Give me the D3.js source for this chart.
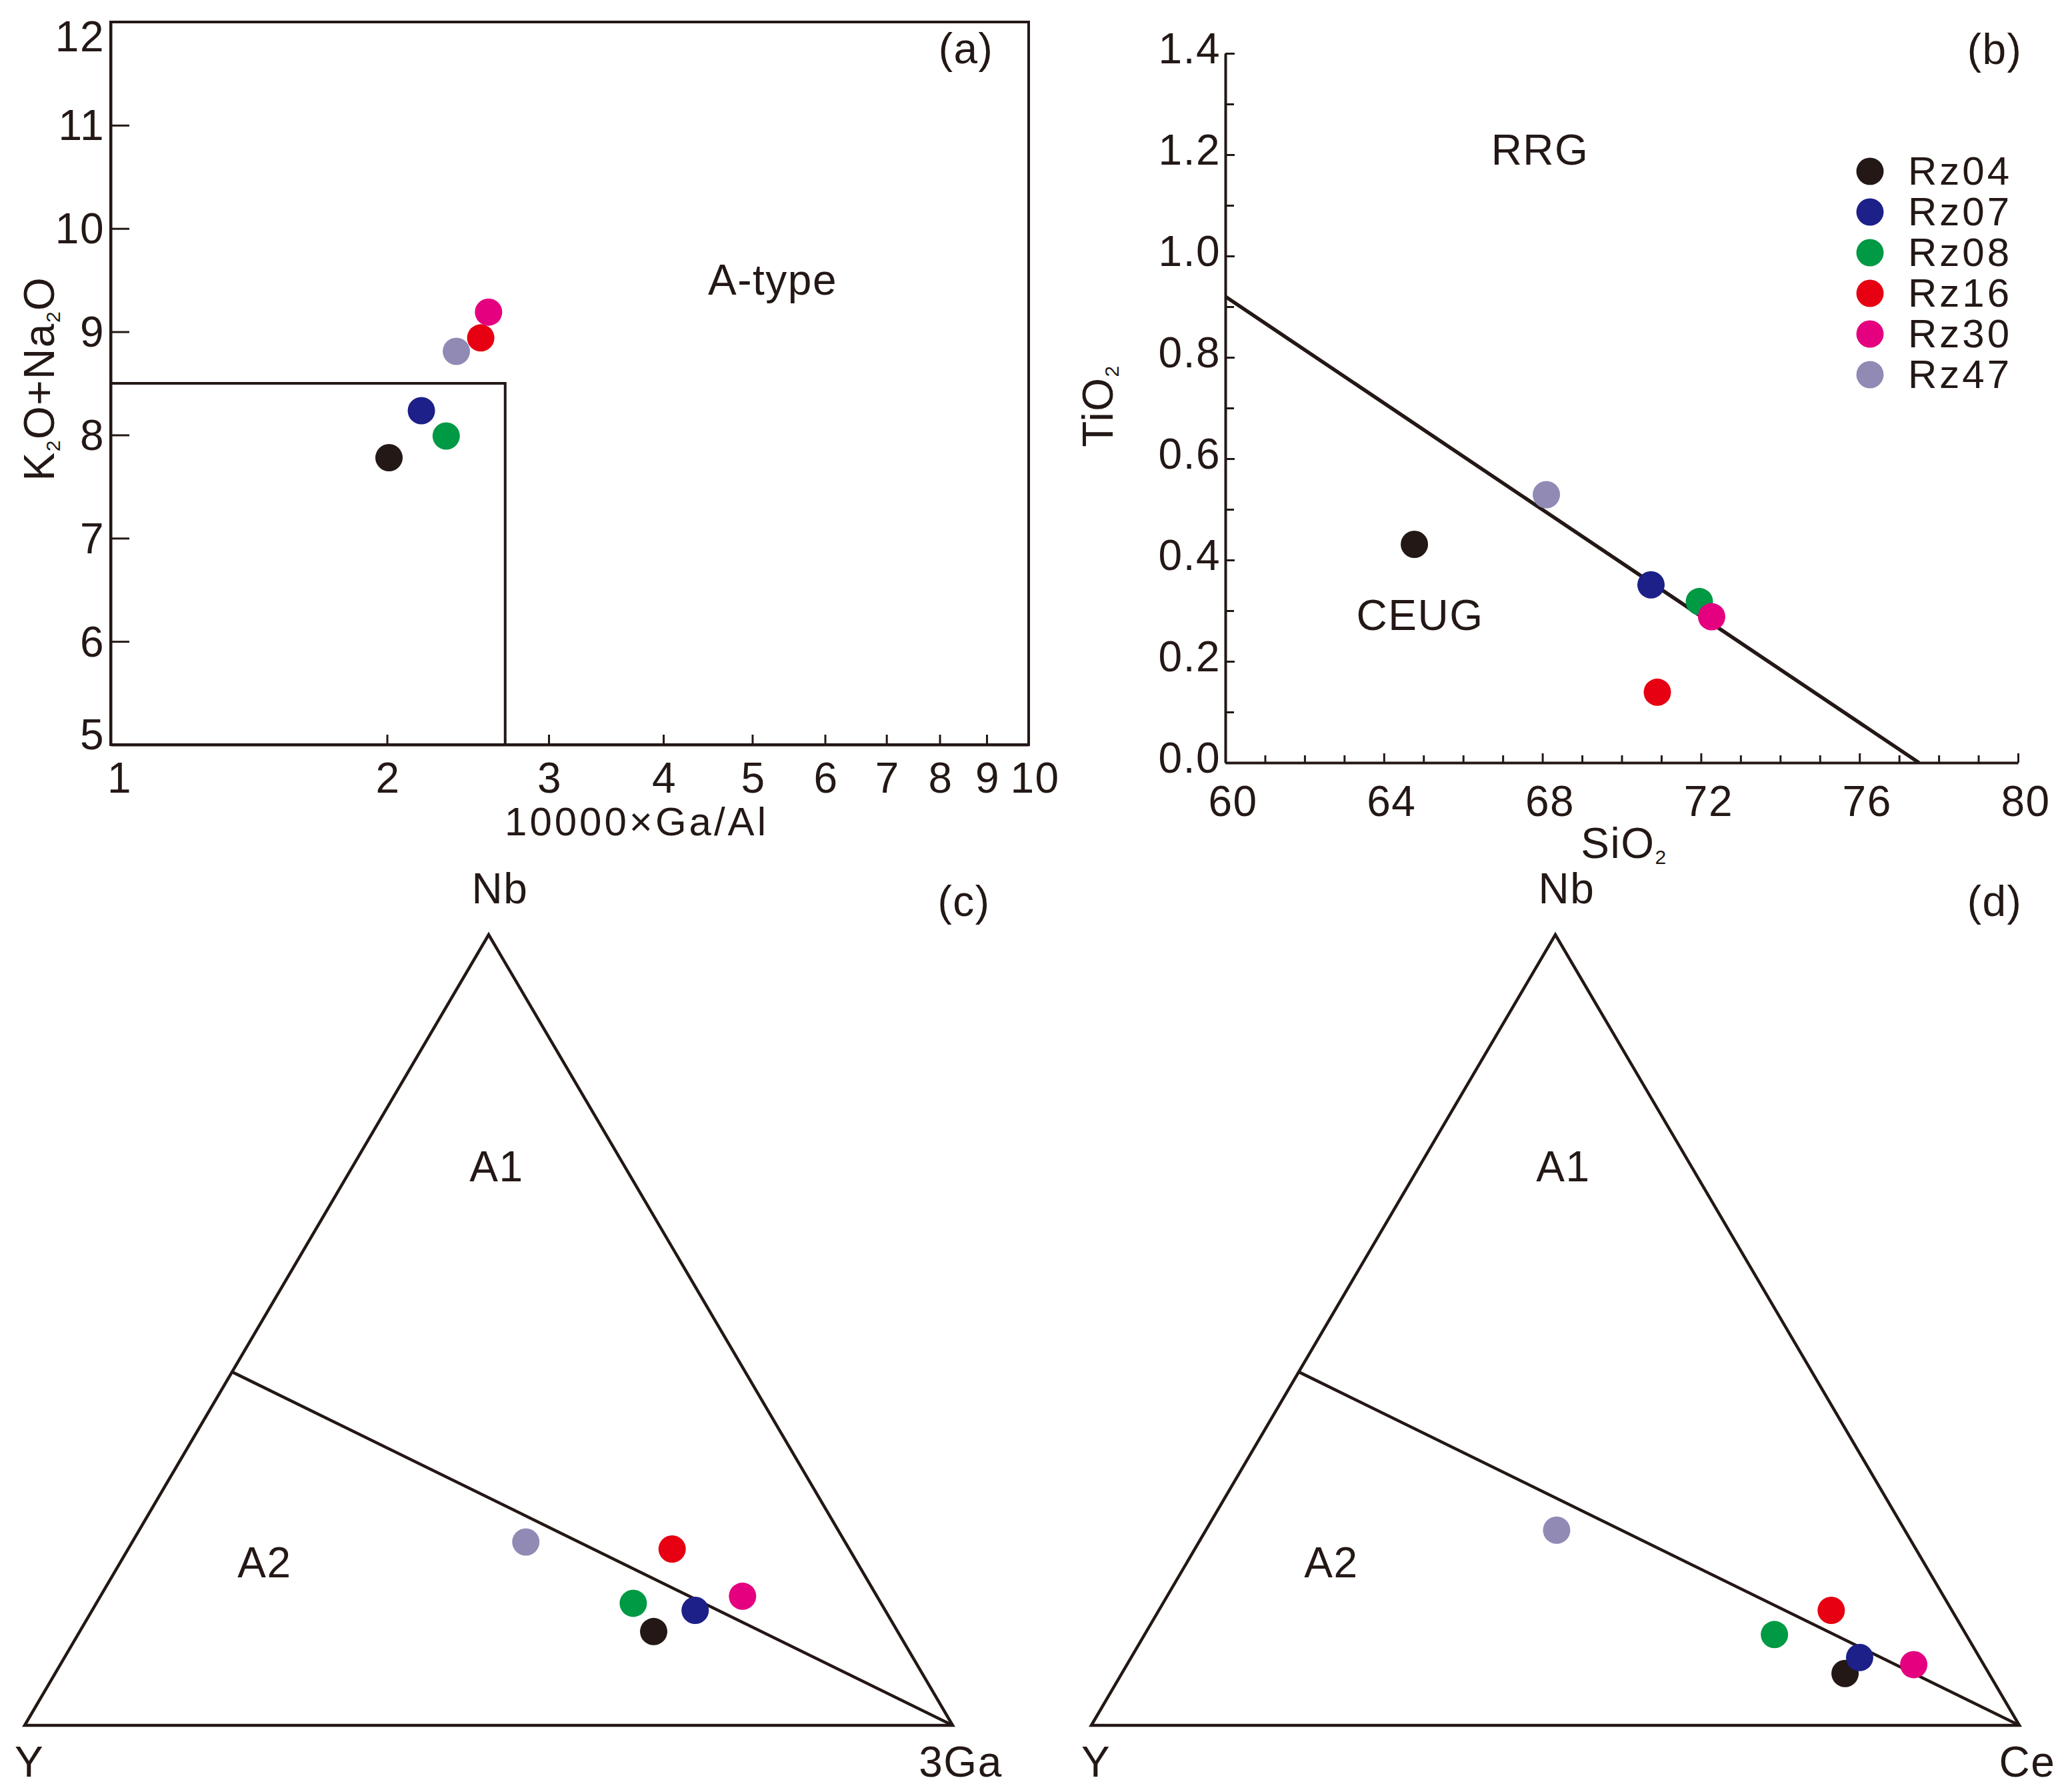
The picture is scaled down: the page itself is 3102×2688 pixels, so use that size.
<!DOCTYPE html>
<html>
<head>
<meta charset="utf-8">
<script src="https://cdn.jsdelivr.net/npm/d3@7"></script>
<style>
  html, body { margin: 0; padding: 0; background: #fff; }
  svg { display: block; }
  text { font-family: "Liberation Sans", Arial, sans-serif; font-size: 64px; fill: #231815; letter-spacing: 1.5px; }
  .tight { font-size: 60px; letter-spacing: 4px; }
  .tick line, .domain { stroke: #231815; }
</style>
</head>
<body>
<svg id="chart" width="3102" height="2688"></svg>
<script>
// samples, same order everywhere
let samples = ["Rz04", "Rz07", "Rz08", "Rz16", "Rz30", "Rz47"];
let sampleColors = ["#231815", "#1d2088", "#009944", "#e60012", "#e4007f", "#918ab5"];

// (a) Ga/Al vs alkalis
let gaAl = [2.01, 2.18, 2.32, 2.53, 2.58, 2.38];
let k2oNa2o = [7.78, 8.235, 7.99, 8.94, 9.19, 8.81];
let boxGaAl = [1, 2.69, 2.69];
let boxAlkali = [8.5, 8.5, 5];
let gaAlTicks = [1, 2, 3, 4, 5, 6, 7, 8, 9, 10];
let alkaliTicks = [5, 6, 7, 8, 9, 10, 11, 12];

// (b) SiO2 vs TiO2
let sio2 = [64.77, 70.74, 71.96, 70.9, 72.27, 68.1];
let tio2 = [0.431, 0.351, 0.318, 0.139, 0.288, 0.529];
let lineSio2 = [60, 77.5];
let lineTio2 = [0.92, 0];
let sio2Major = [60, 64, 68, 72, 76, 80];
let sio2Minor = [61, 62, 63, 65, 66, 67, 69, 70, 71, 73, 74, 75, 77, 78, 79];
let tio2Major = [0, 0.2, 0.4, 0.6, 0.8, 1.0, 1.2, 1.4];
let tio2Minor = [0.1, 0.3, 0.5, 0.7, 0.9, 1.1, 1.3];

// (c) Nb - Y - 3Ga fractions
let cNb = [0.1186, 0.1454, 0.1544, 0.223, 0.1633, 0.2319];
let cGa = [0.6185, 0.6498, 0.5786, 0.5862, 0.6919, 0.4241];
// (d) Nb - Y - Ce fractions
let dNb = [0.0656, 0.0858, 0.1148, 0.1454, 0.0768, 0.2468];
let dCe = [0.7794, 0.785, 0.6787, 0.7246, 0.8478, 0.378];
// A1/A2 boundary leaves the Y-Nb edge at this Nb fraction
let a1a2Nb = 0.447;

let ink = "#231815";
let dotR = 20.5;
let svg = d3.select("#chart");

function label(x, y, str, anchor) {
    return svg.append("text").attr("x", x).attr("y", y)
        .attr("text-anchor", anchor || "middle").text(str);
}

// rotated or flat label with small subscript 2s, parts like ["K","2","O+Na","2","O"]
function subLabel(x, y, parts, rotate) {
    let t = svg.append("text").attr("text-anchor", "middle")
        .attr("transform", "translate(" + x + "," + y + ")" + (rotate ? " rotate(-90)" : ""));
    parts.forEach(function(p, i) {
        let isSub = i % 2 == 1;
        t.append("tspan")
            .style("font-size", isSub ? "30px" : "64px")
            .attr("dy", i == 0 ? 0 : (isSub ? 9 : -9))
            .text(p);
    });
}

function dots(xs, ys, x, y) {
    svg.append("g").selectAll("circle").data(samples).join("circle")
        .attr("cx", function(d, i) { return x(xs[i]); })
        .attr("cy", function(d, i) { return y(ys[i]); })
        .attr("r", dotR)
        .attr("fill", function(d, i) { return sampleColors[i]; });
}

// ---- panel a
let xa = d3.scaleLog().domain([1, 10]).range([166, 1543]);
let ya = d3.scaleLinear().domain([5, 12]).range([1117, 33]);

svg.append("rect").attr("x", xa(1)).attr("y", ya(12))
    .attr("width", xa(10) - xa(1)).attr("height", ya(5) - ya(12))
    .attr("fill", "none").attr("stroke", ink).attr("stroke-width", 4);

let axA = svg.append("g").attr("transform", "translate(0," + ya(5) + ")")
    .call(d3.axisBottom(xa).tickValues(gaAlTicks).tickFormat(d3.format("d")).tickSize(-15).tickSizeOuter(0));
axA.select(".domain").attr("stroke-width", 4);
axA.selectAll(".tick line").attr("stroke-width", 3);
axA.selectAll(".tick text").attr("y", 72).attr("dy", 0)
    .attr("dx", function(d) { return d == 1 ? 13 : (d == 10 ? 9 : 1); });

let ayA = svg.append("g").attr("transform", "translate(" + xa(1) + ",0)")
    .call(d3.axisLeft(ya).tickValues(alkaliTicks).tickFormat(d3.format("d")).tickSize(-28).tickSizeOuter(0));
ayA.select(".domain").attr("stroke-width", 4);
ayA.selectAll(".tick line").attr("stroke-width", 3);
ayA.selectAll(".tick text").attr("x", -9).attr("dy", function(d) {
    if (d == 12) return 43;
    if (d == 5) return 6;
    return 22;
});

svg.append("path")
    .attr("d", d3.line().x(function(d) { return xa(d); }).y(function(d, i) { return ya(boxAlkali[i]); })(boxGaAl))
    .attr("fill", "none").attr("stroke", ink).attr("stroke-width", 4);

dots(gaAl, k2oNa2o, xa, ya);

label(955, 1253, "10000×Ga/Al").attr("class", "tight");
subLabel(81, 568, ["K", "2", "O+Na", "2", "O"], true);
label(1159, 442, "A-type");
label(1449, 95, "(a)");

// ---- panel b
let xb = d3.scaleLinear().domain([60, 80]).range([1838, 3027]);
let yb = d3.scaleLinear().domain([0, 1.4]).range([1144, 80]);

let minorB = svg.append("g").attr("transform", "translate(0," + yb(0) + ")")
    .call(d3.axisBottom(xb).tickValues(sio2Minor).tickFormat("").tickSize(-11).tickSizeOuter(0));
minorB.select(".domain").remove();
minorB.selectAll(".tick line").attr("stroke-width", 3);

let minorBy = svg.append("g").attr("transform", "translate(" + xb(60) + ",0)")
    .call(d3.axisLeft(yb).tickValues(tio2Minor).tickFormat("").tickSize(-13).tickSizeOuter(0));
minorBy.select(".domain").remove();
minorBy.selectAll(".tick line").attr("stroke-width", 3);

let axB = svg.append("g").attr("transform", "translate(0," + yb(0) + ")")
    .call(d3.axisBottom(xb).tickValues(sio2Major).tickFormat(d3.format("d")).tickSize(-14).tickSizeOuter(0));
axB.select(".domain").attr("stroke-width", 4);
axB.selectAll(".tick line").attr("stroke-width", 3);
axB.selectAll(".tick text").attr("y", 80).attr("dy", 0).attr("dx", 11);

let ayB = svg.append("g").attr("transform", "translate(" + xb(60) + ",0)")
    .call(d3.axisLeft(yb).tickValues(tio2Major).tickFormat(d3.format(".1f")).tickSize(-14).tickSizeOuter(0));
ayB.select(".domain").attr("stroke-width", 4);
ayB.selectAll(".tick line").attr("stroke-width", 3);
ayB.selectAll(".tick text").attr("x", -7).attr("dy", 14);

svg.append("line")
    .attr("x1", xb(lineSio2[0])).attr("y1", yb(lineTio2[0]))
    .attr("x2", xb(lineSio2[1])).attr("y2", yb(lineTio2[1]))
    .attr("stroke", ink).attr("stroke-width", 5.5);

dots(sio2, tio2, xb, yb);

label(2310, 247, "RRG");
label(2130, 945, "CEUG");
label(2992, 96, "(b)");
subLabel(2436, 1287, ["SiO", "2", ""], false);
subLabel(1669, 609, ["TiO", "2", ""], true);

// legend
let legendY = d3.scalePoint().domain(samples).range([257, 562]);
let legend = svg.append("g").selectAll("g").data(samples).join("g")
    .attr("transform", function(d) { return "translate(2805," + legendY(d) + ")"; });
legend.append("circle").attr("r", dotR)
    .attr("fill", function(d, i) { return sampleColors[i]; });
legend.append("text").attr("class", "tight").attr("x", 57).attr("y", 20).text(function(d) { return d; });

// ---- panels c and d
function ternary(left, right, nb, other, names) {
    let top = 1402, base = 2588;
    let x = d3.scaleLinear().domain([0, 1]).range([left, right]);
    let y = d3.scaleLinear().domain([0, 1]).range([base, top]);
    // horizontal position from the right-corner fraction and the top fraction
    let hx = function(r, t) { return x(r + t / 2); };

    let corners = [[0, 0], [0.5, 1], [1, 0]];
    svg.append("path")
        .attr("d", d3.line().x(function(d) { return x(d[0]); }).y(function(d) { return y(d[1]); }).curve(d3.curveLinearClosed)(corners))
        .attr("fill", "none").attr("stroke", ink).attr("stroke-width", 4.5)
        .attr("stroke-linejoin", "miter");

    svg.append("line")
        .attr("x1", hx(0, a1a2Nb)).attr("y1", y(a1a2Nb))
        .attr("x2", x(1)).attr("y2", y(0))
        .attr("stroke", ink).attr("stroke-width", 4.5);

    svg.append("g").selectAll("circle").data(samples).join("circle")
        .attr("cx", function(d, i) { return hx(other[i], nb[i]); })
        .attr("cy", function(d, i) { return y(nb[i]); })
        .attr("r", dotR)
        .attr("fill", function(d, i) { return sampleColors[i]; });

    label(x(0.5) + 17, 1355, "Nb");
    label(x(0.5) + 12, 1772, "A1");
    label(left + 360, 2366, "A2");
    label(left + 7, 2665, "Y");
    label(right + 12, 2665, names);
}

ternary(37, 1429, cNb, cGa, "3Ga");
ternary(1637, 3029, dNb, dCe, "Ce");
label(1446, 1374, "(c)");
label(2992, 1374, "(d)");
</script>
</body>
</html>
